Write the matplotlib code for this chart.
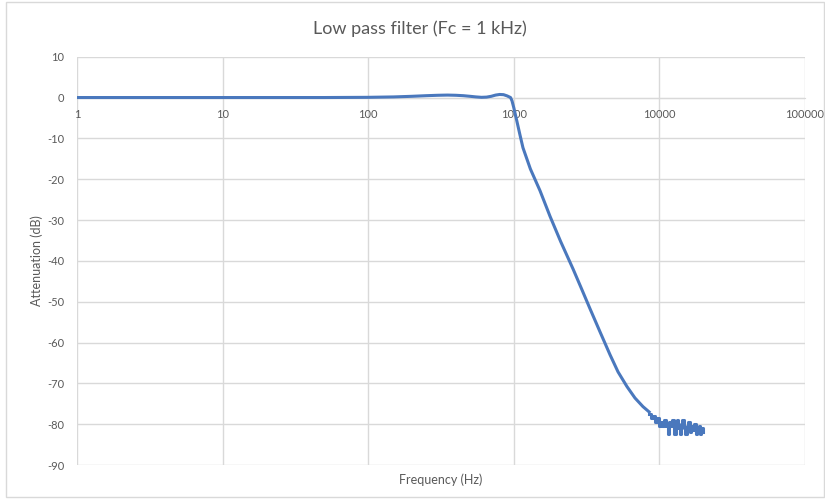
#!/usr/bin/env python3

import numpy as np
import matplotlib.pyplot as plt
from matplotlib.patches import Rectangle

plt.rcParams['axes.unicode_minus'] = False

# passband + transition
freq = [1, 2, 5, 10, 20, 50, 100, 150, 200, 250, 300, 350, 400, 450, 500,
        550, 600, 650, 700, 750, 800, 850, 900, 950, 972, 1000, 1050, 1100,
        1156, 1300, 1513, 1774, 2100, 2553, 2900, 3335, 3900, 4581, 5200,
        5990, 6800, 7710, 8500]
atten = [0, 0, 0, 0, 0, 0, 0.05, 0.15, 0.3, 0.45, 0.55, 0.6, 0.55, 0.45, 0.3,
         0.15, 0.05, 0.1, 0.3, 0.6, 0.75, 0.7, 0.4, 0, -0.8, -2.5, -5.8, -9,
         -12.3, -17.5, -22.8, -29.1, -35.3, -42.0, -46.6, -51.7, -57.3, -63.0,
         -67.2, -70.8, -73.6, -75.7, -77.0]

# noise floor, quantised readings
noise_freq = [8500, 8800, 9000, 9300, 9600, 9900, 10200, 10500, 10800, 11100,
              11400, 11700, 12000, 12300, 12600, 12900, 13200, 13500, 13800,
              14100, 14400, 14700, 15000, 15400, 15800, 16200, 16600, 17000,
              17400, 17800, 18200, 18600, 19000, 19400, 19800]
noise_db = [-77.5, -78.5, -78, -79.5, -78.5, -80.5, -79.5, -80.5, -79,
            -80.5, -82.5, -79.5, -80.5, -79, -82.5, -80.5, -79, -81, -82.5,
            -80, -79, -81, -82.5, -80.5, -79.5, -82, -80.5, -81.5, -80,
            -82.5, -81, -80.5, -82.5, -81, -82]

grey = '#595959'
grid = '#d9d9d9'
blue = '#4a78bd'

fig = plt.figure(figsize=(8.25, 4.99), dpi=100)
ax = fig.add_axes([77/825, 1 - 465/499, 728/825, 408.3/499])

fig.patches.append(Rectangle((6/825, 2/499), 818/825, 495/499,
                             transform=fig.transFigure, fill=False,
                             edgecolor=grid, linewidth=1))

ax.plot(freq, atten, color=blue, linewidth=2.2, zorder=3)
ax.plot(noise_freq, noise_db, color=blue, linewidth=2.2,
        drawstyle='steps-post', zorder=3)

ax.set_xscale('log')
ax.set_xlim(1, 100000)
ax.set_ylim(-90, 10)
ax.set_xticks([1, 10, 100, 1000, 10000, 100000])
ax.set_xticklabels(['1', '10', '100', '1000', '10000', '100000'])
ax.minorticks_off()
ax.set_yticks(range(-90, 11, 10))

ax.grid(True, color=grid, linewidth=1)
ax.set_axisbelow(True)
for s in ['top', 'right', 'left']:
    ax.spines[s].set_visible(False)
ax.spines['bottom'].set_position(('data', 0))
ax.spines['bottom'].set_color(grid)
ax.tick_params(length=0, colors=grey, labelsize=8, labelfontfamily='Lato')
ax.tick_params(axis='x', pad=8)
ax.tick_params(axis='y', pad=9)

fig.text(420/825, 1 - 29/499, 'Low pass filter (Fc = 1 kHz)', color=grey,
         fontsize=13, family='Lato', ha='center', va='center')
ax.text(0.5, -0.035, 'Frequency (Hz)', transform=ax.transAxes, ha='center',
        va='center', color=grey, fontsize=9, family='Lato')
ax.text(-0.055, 0.5, 'Attenuation (dB)', transform=ax.transAxes, ha='center',
        va='center', rotation=90, color=grey, fontsize=9, family='Lato')

plt.savefig('out.png')
